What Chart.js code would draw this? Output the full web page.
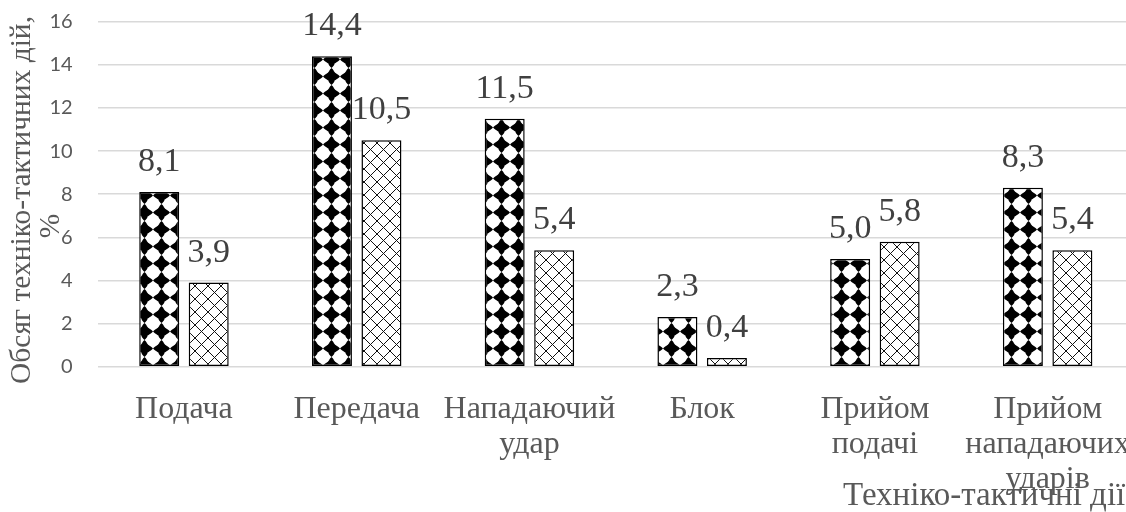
<!DOCTYPE html>
<html>
<head>
<meta charset="utf-8">
<script src="https://cdn.jsdelivr.net/npm/chart.js@4/dist/chart.umd.min.js"></script>
<style>
  html, body { margin: 0; padding: 0; background: #fff; overflow: hidden; }
  #wrap { width: 1126px; height: 512px; overflow: hidden; }
  canvas { display: block; }
</style>
</head>
<body>
<div id="wrap"><canvas id="c" width="1134" height="512"></canvas></div>
<script>
// Categories (multi-line labels) and the two series, in %
const categories = [
  ["Подача"],
  ["Передача"],
  ["Нападаючий", "удар"],
  ["Блок"],
  ["Прийом", "подачі"],
  ["Прийом", "нападаючих", "ударів"]
];
const seriesA = [8.1, 14.4, 11.5, 2.3, 5.0, 8.3];
const seriesB = [3.9, 10.5, 5.4, 0.4, 5.8, 5.4];
const yTicks = [0, 2, 4, 6, 8, 10, 12, 14, 16];
const yTitleLines = ["Обсяг техніко-тактичних дій,", "%"];
const xTitle = "Техніко-тактичні дії";

const SERIF = '"Liberation Serif", "Times New Roman", serif';
const canvas = document.getElementById('c');
const ctx = canvas.getContext('2d');

// Black diamonds touching at their tips, white rounded gaps
function diamondFill() {
  const s = 17, h = s / 2;
  const t = document.createElement('canvas');
  t.width = t.height = s;
  const g = t.getContext('2d');
  g.fillStyle = '#fff';
  g.fillRect(0, 0, s, s);
  g.fillStyle = '#000';
  g.beginPath();
  g.moveTo(h, 0); g.lineTo(s, h); g.lineTo(h, s); g.lineTo(0, h);
  g.closePath();
  g.fill();
  g.fillStyle = '#fff';
  [[0, 0], [s, 0], [0, s], [s, s]].forEach(([x, y]) => {
    g.beginPath();
    g.arc(x, y, 6.8, 0, Math.PI * 2);
    g.fill();
  });
  return ctx.createPattern(t, 'repeat');
}

// Thin diagonal lattice on white
function latticeFill() {
  const s = 13;
  const t = document.createElement('canvas');
  t.width = t.height = s;
  const g = t.getContext('2d');
  g.fillStyle = '#fff';
  g.fillRect(0, 0, s, s);
  g.strokeStyle = '#111';
  g.lineWidth = 1;
  g.beginPath();
  g.moveTo(-2, -2); g.lineTo(s + 2, s + 2);
  g.moveTo(s + 2, -2); g.lineTo(-2, s + 2);
  g.stroke();
  return ctx.createPattern(t, 'repeat');
}

const fmt = v => v.toFixed(1).replace('.', ',');

const textPlugin = {
  id: 'chartTexts',
  afterDatasetsDraw(chart) {
    const g = chart.ctx;
    g.save();
    // value labels above bars
    g.font = '34px ' + SERIF;
    g.fillStyle = '#404040';
    g.textAlign = 'center';
    g.textBaseline = 'alphabetic';
    chart.data.datasets.forEach((ds, di) => {
      chart.getDatasetMeta(di).data.forEach((el, i) => {
        g.fillText(fmt(ds.data[i]), el.x, el.y - 21);
      });
    });
    // y axis title (two lines, rotated)
    g.fillStyle = '#595959';
    g.textBaseline = 'middle';
    g.font = '29.5px ' + SERIF;
    const yPos = [[22, 200], [51, 226]];
    yTitleLines.forEach((line, k) => {
      g.save();
      g.translate(yPos[k][0], yPos[k][1]);
      g.rotate(-Math.PI / 2);
      g.fillText(line, 0, 0);
      g.restore();
    });
    // x axis title
    g.font = '33px ' + SERIF;
    g.textAlign = 'left';
    g.fillText(xTitle, 843, 496);
    g.restore();
  }
};

new Chart(ctx, {
  type: 'bar',
  data: {
    labels: categories,
    datasets: [
      {
        data: seriesA,
        backgroundColor: diamondFill(),
        borderColor: '#000',
        borderWidth: 1.5,
        borderSkipped: false,
        categoryPercentage: 0.573,
        barPercentage: 0.808
      },
      {
        data: seriesB,
        backgroundColor: latticeFill(),
        borderColor: '#000',
        borderWidth: 1.5,
        borderSkipped: false,
        categoryPercentage: 0.573,
        barPercentage: 0.808
      }
    ]
  },
  options: {
    responsive: false,
    animation: false,
    devicePixelRatio: 1,
    layout: { padding: { top: 21.7, right: 0, bottom: 0, left: 0 } },
    plugins: { legend: { display: false }, tooltip: { enabled: false } },
    scales: {
      x: {
        grid: { display: false, drawTicks: false },
        border: { display: false },
        ticks: {
          color: '#595959',
          font: { family: SERIF, size: 32, lineHeight: 1.08 },
          padding: 26,
          maxRotation: 0,
          autoSkip: false
        },
        afterFit(s) {
          s.height = 145.3;
          s.paddingLeft = 0;
          s.paddingRight = 0;
        }
      },
      y: {
        min: 0,
        max: 16,
        afterBuildTicks(s) { s.ticks = yTicks.map(v => ({ value: v })); },
        ticks: { color: '#595959', font: { family: 'Lato', size: 20 }, padding: 25 },
        grid: { color: '#d9d9d9', lineWidth: 1.5, drawTicks: false },
        border: { display: false },
        afterFit(s) {
          s.width = 97.6;
          s.paddingTop = 0;
          s.paddingBottom = 0;
        }
      }
    }
  },
  plugins: [textPlugin]
});
</script>
</body>
</html>
